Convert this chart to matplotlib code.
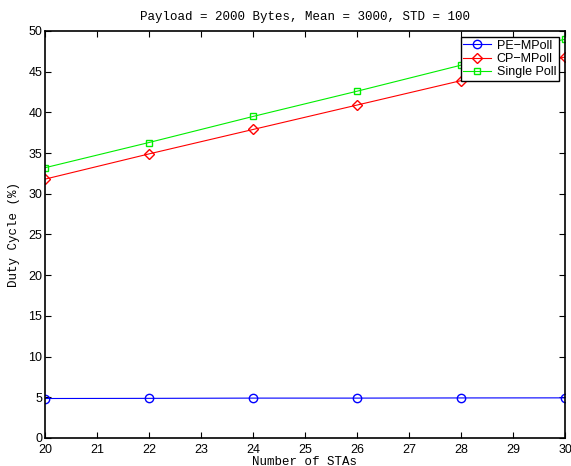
import numpy as np
import matplotlib
matplotlib.use("Agg")
import matplotlib.pyplot as plt

# data
stas = [20, 22, 24, 26, 28, 30]
pe_mpoll = [4.85, 4.87, 4.9, 4.9, 4.92, 4.93]
cp_mpoll = [31.8, 34.9, 37.9, 40.9, 43.9, 46.8]
single_poll = [33.2, 36.3, 39.5, 42.6, 45.8, 49.0]

plt.rcParams['font.family'] = 'Liberation Sans'

fig = plt.figure(figsize=(5.71, 4.66), dpi=100)
ax = fig.add_axes([0.0788, 0.0601, 0.9107, 0.8734])

ax.plot(stas, pe_mpoll, color='blue', marker='o', markersize=6,
        markerfacecolor='none', linewidth=0.8, label='PE\u2212MPoll')
ax.plot(stas, cp_mpoll, color='red', marker='D', markersize=5,
        markerfacecolor='none', linewidth=0.8, label='CP\u2212MPoll')
ax.plot(stas, single_poll, color='#00ee00', marker='s', markersize=5,
        markerfacecolor='none', linewidth=0.8, label='Single Poll')

ax.set_xlim(20, 30)
ax.set_ylim(0, 50)
ax.set_xticks(range(20, 31))
ax.set_yticks(range(0, 51, 5))
ax.tick_params(direction='in', top=True, right=True, labelsize=9, length=4)
ax.tick_params(axis='x', pad=4)
ax.tick_params(axis='y', pad=2)
for s in ax.spines.values():
    s.set_linewidth(1.2)

ax.set_title('Payload = 2000 Bytes, Mean = 3000, STD = 100',
             family='Liberation Mono', fontsize=9, pad=8)
ax.set_xlabel('Number of STAs', family='Liberation Mono', fontsize=9, labelpad=0)
ax.set_ylabel('Duty Cycle (%)', family='Liberation Mono', fontsize=9, labelpad=6)

leg = ax.legend(loc='upper right', fontsize=9, fancybox=False, framealpha=1,
                edgecolor='black', borderpad=0.2, labelspacing=0.1,
                handlelength=2.2, handletextpad=0.5, borderaxespad=0.5)
leg.get_frame().set_linewidth(1.0)

fig.savefig('out.png', dpi=100)
